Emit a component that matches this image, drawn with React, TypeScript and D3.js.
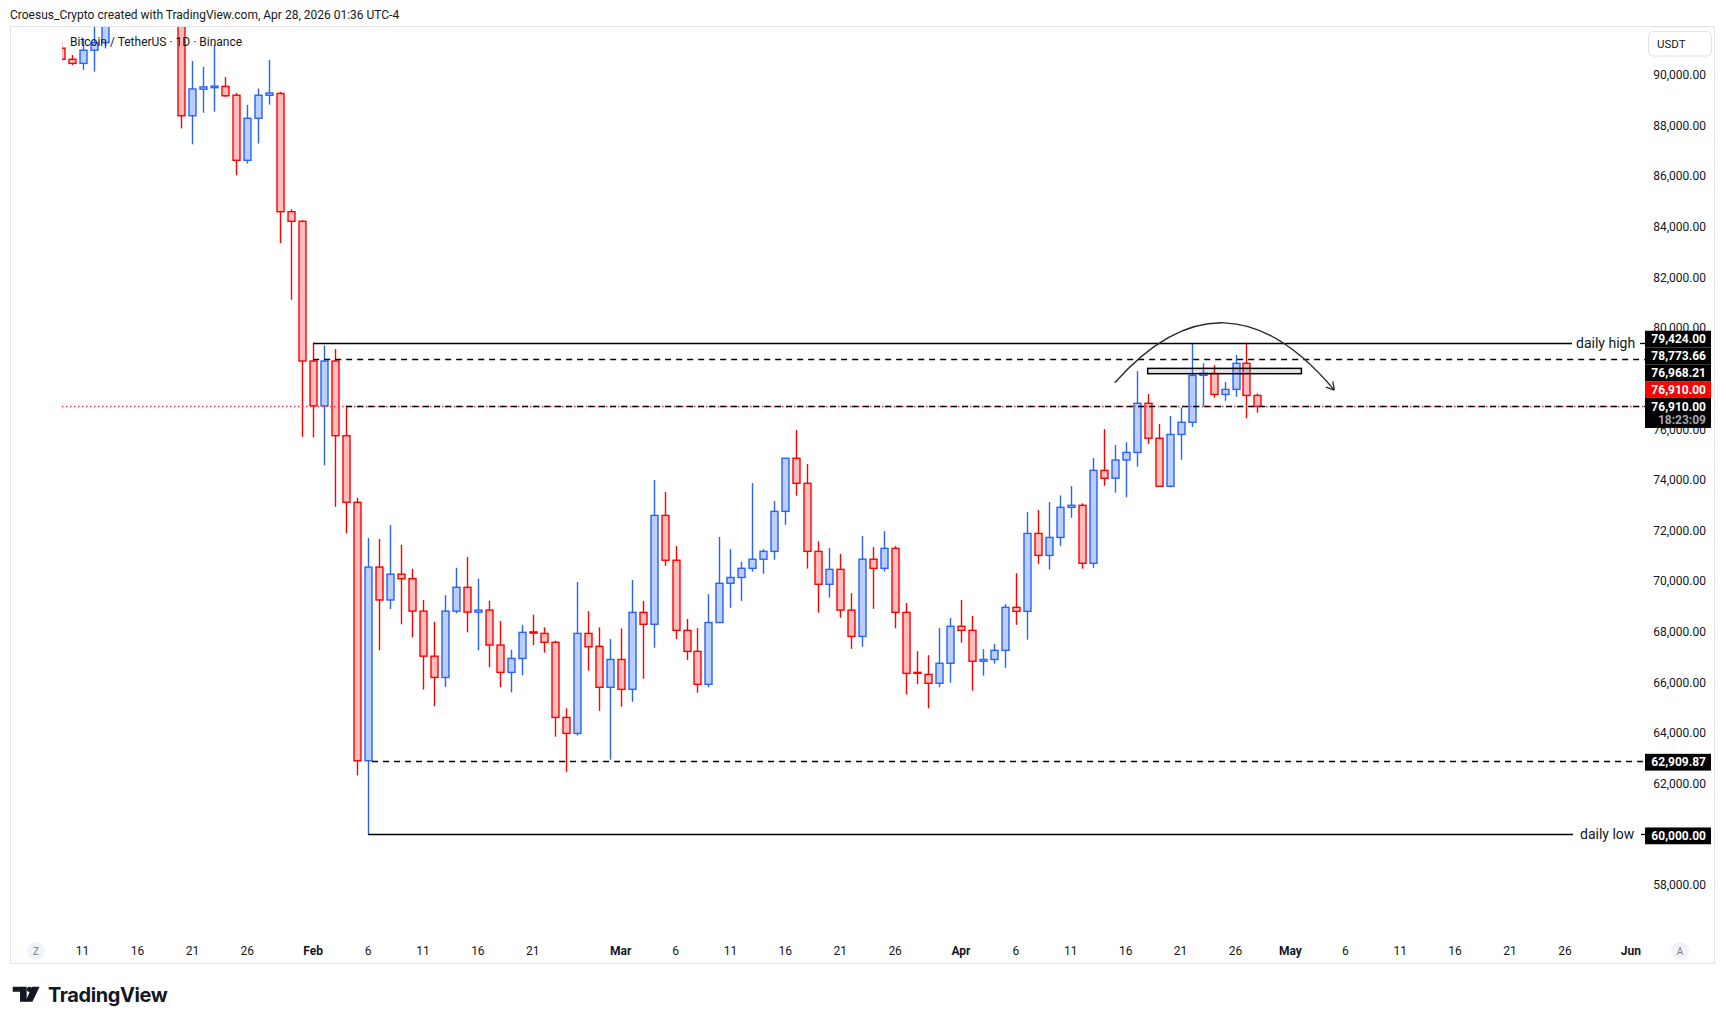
import React, { useEffect, useRef } from "react";
import * as d3 from "d3";

// BTCUSDT daily candles, Binance, starting at firstDay
const firstDay = "2026-01-09";
const opens = [
  91060, 90620, 90460, 90980, 91280, 94300, 96900, 95600, 95500, 95100, 92700, 92900, 88390, 89440, 89500, 89550, 89200, 86630, 88290, 89200, 89270, 84600, 84220,
  78700, 76930, 78700, 75750, 73120, 62910, 70560, 69260, 70280, 70100, 68820, 67040, 66200, 68820, 69760, 68780, 68860, 67480, 66400, 66950, 68000, 67940, 67590, 64620, 63990, 67940, 67430, 65810,
  66910, 65730, 68770, 68300, 72600, 70830, 68060, 67230, 65930, 68370, 69920, 70150, 70510, 70870, 71180, 72760, 74860, 73870, 71180, 69880, 70470, 68860, 67820, 70870, 70510, 71300, 68770, 66400, 66320, 65970, 66760,
  68220, 68060, 66840, 66910, 67270, 68970, 68810, 71890, 71020, 71730, 72920, 73000, 70710, 74380, 74070, 74790, 75090, 77030, 75650, 73750, 75800, 76280, 78135, 78210, 77380, 77580, 78610, 77340,
];
const highs = [
  91300, 90790, 91380, 92600, 94800, 97200, 97800, 95900, 95700, 95400, 93400, 93100, 90550, 90320, 91190, 89920, 89290, 88820, 89470, 90590, 89330, 84690, 84260,
  79424, 79320, 79170, 76930, 73300, 71710, 71670, 72220, 71440, 70490, 69260, 68400, 69450, 70530, 70960, 70100, 69230, 68430, 67290, 68280, 68680, 68180, 67650, 64980, 69970, 68820, 68180, 67720,
  68140, 70050, 69220, 74000, 73530, 71390, 68510, 68150, 69490, 71750, 71270, 70770, 73880, 71270, 73170, 74870, 75970, 74630, 71580, 71310, 71080, 69530, 71790, 71350, 71980, 71390, 69140, 67240, 67080, 68150, 68550,
  69260, 68630, 67320, 67520, 69100, 70320, 72730, 72810, 73130, 73390, 73760, 73080, 74870, 76010, 75380, 75490, 78300, 77400, 76210, 76530, 76870, 79424, 78610, 78540, 77870, 78940, 79424, 77420,
];
const lows = [
  90500, 90395, 90200, 90130, 91050, 93800, 95200, 94600, 94900, 92600, 92200, 87890, 87260, 88510, 88550, 89130, 86050, 86500, 87290, 88830, 83360, 81120, 75710,
  75680, 74580, 72940, 71890, 62330, 60000, 67270, 68900, 68300, 67780, 65720, 65070, 65820, 68730, 67980, 67270, 66600, 65820, 65610, 66290, 67480, 67180, 63860, 62470, 63900, 66470, 64880, 62950,
  65040, 65240, 66150, 67370, 70610, 67720, 66890, 65600, 65810, 68370, 68950, 69220, 70380, 70300, 70850, 72230, 73380, 70500, 68760, 69350, 68560, 67330, 67410, 68910, 70380, 68140, 65530, 65930, 64980, 65810, 65990,
  67570, 65680, 66270, 66740, 66580, 68280, 67690, 70690, 70460, 71400, 72510, 70500, 70530, 73770, 73500, 73320, 74520, 75430, 73740, 73710, 74800, 76100, 76920, 77250, 77130, 77290, 76440, 76660,
];
const closes = [
  90620, 90460, 90980, 91280, 94300, 96900, 95600, 95500, 95100, 92700, 92900, 88390, 89450, 89530, 89560, 89180, 86630, 88290, 89200, 89290, 84600, 84220, 78700,
  76930, 78700, 75750, 73120, 62910, 70560, 69260, 70280, 70100, 68820, 67040, 66200, 68820, 69760, 68780, 68860, 67480, 66400, 66950, 67980, 67950, 67590, 64620, 63990, 67940, 67410, 65810, 66910,
  65730, 68770, 68300, 72600, 70830, 68060, 67230, 65930, 68370, 69920, 70150, 70510, 70870, 71180, 72760, 74860, 73870, 71180, 69880, 70470, 68860, 67820, 70870, 70510, 71300, 68770, 66360, 66360, 65970, 66760, 68220,
  68060, 66840, 66910, 67270, 68970, 68810, 71890, 71020, 71730, 72920, 73000, 70710, 74380, 74070, 74790, 75090, 77030, 75650, 73750, 75800, 76280, 78130, 78215, 77380, 77580, 78610, 77340, 76910,
];

const timeTicks = [
  "2026-01-11", "2026-01-16", "2026-01-21", "2026-01-26", "2026-02-01", "2026-02-06", "2026-02-11", "2026-02-16", "2026-02-21",
  "2026-03-01", "2026-03-06", "2026-03-11", "2026-03-16", "2026-03-21", "2026-03-26", "2026-04-01", "2026-04-06", "2026-04-11",
  "2026-04-16", "2026-04-21", "2026-04-26", "2026-05-01", "2026-05-06", "2026-05-11", "2026-05-16", "2026-05-21", "2026-05-26", "2026-06-01",
];

// drawings
const dailyHigh = 79424;
const dailyLow = 60000;
const upperDash = 78773.66;
const lowerDash = 62909.87;
const lastPrice = 76910;
const highFrom = "2026-02-01";
const lowFrom = "2026-02-06";
const lastDashFrom = "2026-02-04";
const arcPoints: [string, number][] = [["2026-04-15", 77840], ["2026-04-25", 80210], ["2026-05-05", 77550]];
const zone: [string, number][] = [["2026-04-18", 78410], ["2026-05-02", 78200]];

// price scale badges, top to bottom
const badges = [
  { value: 79424, text: "79,424.00", bg: "#000000" },
  { value: 78773.66, text: "78,773.66", bg: "#000000" },
  { value: 76968.21, text: "76,968.21", bg: "#000000" },
  { value: 76910, text: "76,910.00", bg: "#ff0000" },
  { value: 76910, text: "76,910.00", bg: "#000000", sub: "18:23:09" },
];
const lowBadges = [
  { value: 62909.87, text: "62,909.87" },
  { value: 60000, text: "60,000.00" },
];

const W = 1726;
const H = 1025;
const FONT = "Roboto, 'Noto Sans', sans-serif";

function App() {
  const svgRef = useRef<SVGSVGElement>(null);

  useEffect(() => {
    const svg = d3.select(svgRef.current);
    svg.selectAll("*").remove();

    const x = d3
      .scaleUtc()
      .domain([new Date("2026-01-11"), new Date("2026-06-01")])
      .range([82.6, 1630.8]);
    const y = d3.scaleLinear().domain([58000, 90000]).range([885, 75]);

    const start = new Date(firstDay);
    const candles = opens.map((o, i) => ({
      date: d3.utcDay.offset(start, i),
      o,
      h: highs[i],
      l: lows[i],
      c: closes[i],
    }));

    svg.append("rect").attr("width", W).attr("height", H).attr("fill", "#fff");

    svg
      .append("text")
      .attr("x", 10)
      .attr("y", 19)
      .attr("font-family", FONT)
      .attr("font-size", 12)
      .attr("fill", "#131722")
      .text("Croesus_Crypto created with TradingView.com, Apr 28, 2026 01:36 UTC-4");

    svg
      .append("rect")
      .attr("x", 10.5)
      .attr("y", 26.5)
      .attr("width", 1704)
      .attr("height", 937)
      .attr("fill", "#fff")
      .attr("stroke", "#e0e3eb");

    svg
      .append("defs")
      .append("clipPath")
      .attr("id", "plot")
      .append("rect")
      .attr("x", 62)
      .attr("y", 27)
      .attr("width", 1645 - 62)
      .attr("height", 964 - 27);

    const plot = svg.append("g").attr("clip-path", "url(#plot)");

    // candles
    const up = { stroke: "#2962ff", fill: "#bccffc" };
    const down = { stroke: "#ff0000", fill: "#ffbdbd" };
    const g = plot.selectAll("g.candle").data(candles).enter().append("g");
    g.append("line")
      .attr("x1", (d) => Math.round(x(d.date)) + 0.5)
      .attr("x2", (d) => Math.round(x(d.date)) + 0.5)
      .attr("y1", (d) => y(d.h))
      .attr("y2", (d) => y(d.l))
      .attr("stroke", (d) => (d.c >= d.o ? up.stroke : down.stroke))
      .attr("stroke-width", 1.4);
    g.append("rect")
      .attr("x", (d) => Math.round(x(d.date)) - 3)
      .attr("width", 7)
      .attr("y", (d) => y(Math.max(d.o, d.c)))
      .attr("height", (d) => Math.max(1, Math.abs(y(d.o) - y(d.c))))
      .attr("fill", (d) => (d.c >= d.o ? up.fill : down.fill))
      .attr("stroke", (d) => (d.c >= d.o ? up.stroke : down.stroke))
      .attr("stroke-width", 1.4);

    // horizontal levels
    const hline = (x1: number, x2: number, v: number, dash?: string, color = "#000") =>
      plot
        .append("line")
        .attr("x1", x1)
        .attr("x2", x2)
        .attr("y1", Math.round(y(v)) + 0.5)
        .attr("y2", Math.round(y(v)) + 0.5)
        .attr("stroke", color)
        .attr("stroke-width", 1.3)
        .attr("stroke-dasharray", dash ?? null);

    hline(62, 1645, lastPrice, "1.5 2.5", "#f23645");
    hline(x(new Date(lastDashFrom)), 1645, lastPrice, "6 5");
    hline(x(new Date(highFrom)), 1645, upperDash, "6 5");
    hline(x(new Date(lowFrom)) + 4, 1645, lowerDash, "6 5");
    hline(x(new Date(highFrom)), 1572, dailyHigh);
    hline(1640, 1645, dailyHigh);
    hline(x(new Date(lowFrom)), 1573, dailyLow);
    hline(1641, 1645, dailyLow);

    const levelText = (v: number, label: string, x0: number) =>
      svg
        .append("text")
        .attr("x", x0)
        .attr("y", y(v))
        .attr("dy", "0.35em")
        .attr("font-family", FONT)
        .attr("font-size", 14)
        .attr("fill", "#131722")
        .text(label);
    levelText(dailyHigh, "daily high", 1576);
    levelText(dailyLow, "daily low", 1580);

    // highlighted zone
    plot
      .append("rect")
      .attr("x", x(new Date(zone[0][0])))
      .attr("y", y(zone[0][1]))
      .attr("width", x(new Date(zone[1][0])) - x(new Date(zone[0][0])))
      .attr("height", y(zone[1][1]) - y(zone[0][1]))
      .attr("fill", "rgba(120,123,134,0.2)")
      .attr("stroke", "#000")
      .attr("stroke-width", 1.5);

    // curved arrow
    const pts = arcPoints.map(([d, v]) => [x(new Date(d)), y(v)]);
    const [p0, pm, p2] = pts;
    const ctrl = [2 * pm[0] - (p0[0] + p2[0]) / 2, 2 * pm[1] - (p0[1] + p2[1]) / 2];
    const path = d3.path();
    path.moveTo(p0[0], p0[1]);
    path.quadraticCurveTo(ctrl[0], ctrl[1], p2[0], p2[1]);
    const ang = Math.atan2(p2[1] - ctrl[1], p2[0] - ctrl[0]) + Math.PI;
    [-Math.PI / 6, Math.PI / 6].forEach((da) => {
      path.moveTo(p2[0], p2[1]);
      path.lineTo(p2[0] + 9 * Math.cos(ang + da), p2[1] + 9 * Math.sin(ang + da));
    });
    plot
      .append("path")
      .attr("d", path.toString())
      .attr("fill", "none")
      .attr("stroke", "#2a2a2a")
      .attr("stroke-width", 1.3);

    // legend
    svg
      .append("text")
      .attr("x", 70)
      .attr("y", 46)
      .attr("font-family", FONT)
      .attr("font-size", 12)
      .attr("fill", "#131722")
      .text("Bitcoin / TetherUS · 1D · Binance");

    // stacked badges, resolved from the bottom up
    const bh = 16.8;
    const pos: number[] = [];
    for (let i = badges.length - 1; i >= 0; i--) {
      const t = y(badges[i].value);
      pos[i] = i === badges.length - 1 ? t : Math.min(t, pos[i + 1] - bh);
    }
    const coverTop = pos[0] - bh / 2;
    const coverBottom = pos[badges.length - 1] - bh / 2 + 30;

    // price axis (labels fully hidden behind the badges are skipped)
    svg
      .append("g")
      .selectAll("text")
      .data(y.ticks(16).filter((v) => !(y(v) - 4.5 > coverTop && y(v) + 4.5 < coverBottom)))
      .enter()
      .append("text")
      .attr("x", 1706)
      .attr("y", (d) => y(d))
      .attr("dy", "0.35em")
      .attr("text-anchor", "end")
      .attr("font-family", FONT)
      .attr("font-size", 12)
      .attr("fill", "#131722")
      .text((d) => d3.format(",.2f")(d));

    const drawBadge = (cy: number, text: string, bg: string, sub?: string) => {
      svg
        .append("rect")
        .attr("x", 1645)
        .attr("y", cy - bh / 2)
        .attr("width", 66)
        .attr("height", sub ? 30 : bh)
        .attr("fill", bg);
      svg
        .append("text")
        .attr("x", 1706)
        .attr("y", cy)
        .attr("dy", "0.35em")
        .attr("text-anchor", "end")
        .attr("font-family", FONT)
        .attr("font-size", 12)
        .attr("font-weight", 700)
        .attr("fill", "#fff")
        .text(text);
      if (sub)
        svg
          .append("text")
          .attr("x", 1706)
          .attr("y", cy + 13.5)
          .attr("dy", "0.35em")
          .attr("text-anchor", "end")
          .attr("font-family", FONT)
          .attr("font-size", 12)
          .attr("font-weight", 700)
          .attr("fill", "#a3a6af")
          .text(sub);
    };
    badges.forEach((b, i) => drawBadge(pos[i], b.text, b.bg, b.sub));
    lowBadges.forEach((b) => drawBadge(y(b.value) + 1.5, b.text, "#000"));

    // currency button
    svg
      .append("rect")
      .attr("x", 1648.5)
      .attr("y", 31.5)
      .attr("width", 63)
      .attr("height", 24.5)
      .attr("rx", 4)
      .attr("fill", "#fff")
      .attr("stroke", "#e0e3eb");
    svg
      .append("text")
      .attr("x", 1657)
      .attr("y", 48)
      .attr("font-family", FONT)
      .attr("font-size", 11.5)
      .attr("fill", "#131722")
      .text("USDT");

    // time axis
    const monthFmt = d3.utcFormat("%b");
    const dayFmt = d3.utcFormat("%-d");
    svg
      .append("g")
      .selectAll("text")
      .data(timeTicks.map((s) => new Date(s)))
      .enter()
      .append("text")
      .attr("x", (d) => x(d))
      .attr("y", 955)
      .attr("text-anchor", "middle")
      .attr("font-family", FONT)
      .attr("font-size", 12)
      .attr("font-weight", (d) => (d.getUTCDate() === 1 ? 700 : 400))
      .attr("fill", "#131722")
      .text((d) => (d.getUTCDate() === 1 ? monthFmt(d) : dayFmt(d)));

    [
      [36, "Z"],
      [1680, "A"],
    ].forEach(([cx, t]) => {
      svg.append("circle").attr("cx", cx).attr("cy", 951).attr("r", 9).attr("fill", "#f0f3fa");
      svg
        .append("text")
        .attr("x", cx)
        .attr("y", 955)
        .attr("text-anchor", "middle")
        .attr("font-family", FONT)
        .attr("font-size", 10)
        .attr("fill", "#787b86")
        .text(t as string);
    });

    // footer logo
    const logo = svg.append("g").attr("fill", "#131722");
    logo.append("path").attr("d", "M12.7 986.7H26.7V1001.7H20V991.7H12.7Z");
    logo.append("circle").attr("cx", 29.5).attr("cy", 989.3).attr("r", 2.6);
    logo.append("path").attr("d", "M32 986.7H39.6L32.4 1001.7H25.3Z");
    logo
      .append("text")
      .attr("x", 48)
      .attr("y", 1001.5)
      .attr("font-family", "Inter, Roboto, sans-serif")
      .attr("font-size", 20)
      .attr("font-weight", 700)
      .attr("letter-spacing", -0.4)
      .text("TradingView");
  }, []);

  return (
    <div style={{ position: "absolute", left: 0, top: 0 }}>
      <svg ref={svgRef} width={W} height={H} style={{ display: "block" }} />
    </div>
  );
}

export default App;
